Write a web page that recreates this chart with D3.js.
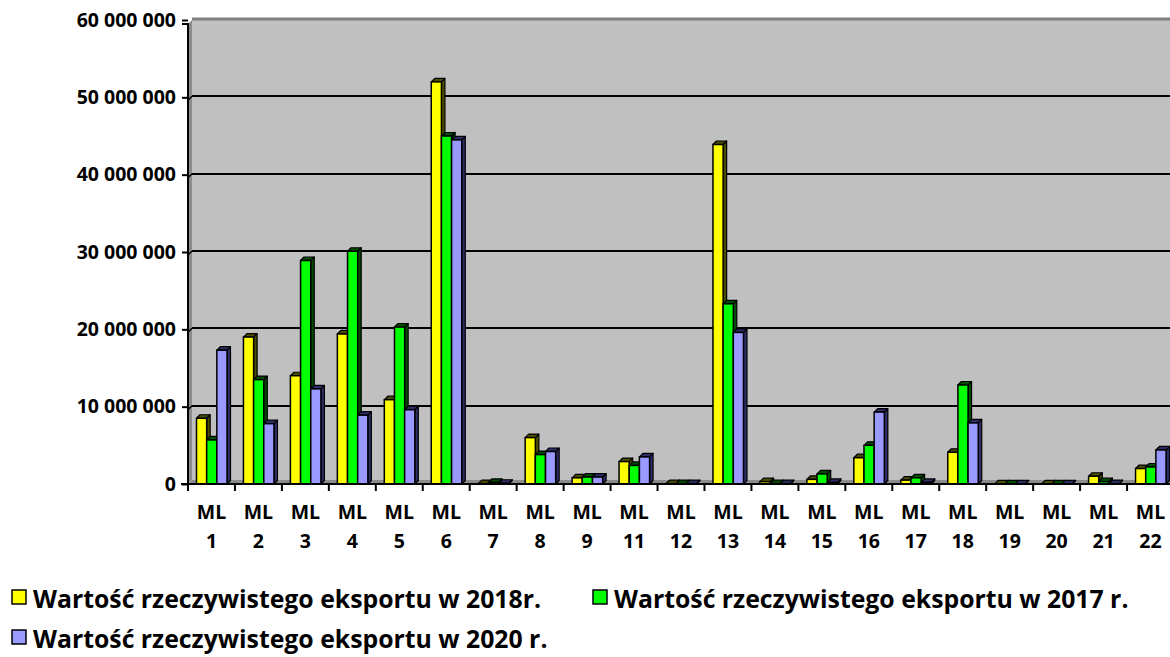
<!DOCTYPE html>
<html><head><meta charset="utf-8">
<script src="https://cdn.jsdelivr.net/npm/d3@7"></script>
<style>
html,body{margin:0;padding:0;background:#fff;}
svg{display:block;font-family:"Open Sans",Lato,sans-serif;font-weight:bold;}
</style></head>
<body>
<svg id="chart" width="1170" height="657"></svg>
<script>
const categories = ["1","2","3","4","5","6","7","8","9","11","12","13","14","15","16","17","18","19","20","21","22"];
const series2018 = [8.5e6,19.0e6,14.0e6,19.4e6,10.9e6,52.0e6,0.05e6,6.0e6,0.8e6,2.9e6,0.05e6,43.9e6,0.3e6,0.6e6,3.4e6,0.5e6,4.1e6,0.02e6,0.02e6,1.0e6,2.0e6];
const series2017 = [5.7e6,13.5e6,28.9e6,30.1e6,20.3e6,45.0e6,0.2e6,3.8e6,0.9e6,2.4e6,0.05e6,23.3e6,0.05e6,1.3e6,5.0e6,0.8e6,12.8e6,0.02e6,0.02e6,0.3e6,2.2e6];
const series2020 = [17.3e6,7.8e6,12.3e6,8.9e6,9.6e6,44.5e6,0.1e6,4.2e6,0.9e6,3.5e6,0.05e6,19.6e6,0.05e6,0.2e6,9.3e6,0.2e6,7.9e6,0.02e6,0.02e6,0.05e6,4.4e6];
const seriesNames = ["Wartość rzeczywistego eksportu w 2018r.","Wartość rzeczywistego eksportu w 2017 r.","Wartość rzeczywistego eksportu w 2020 r."];
const yTicks = [0,10e6,20e6,30e6,40e6,50e6,60e6];

const colors = ["#FFFF00","#00FF00","#9999FF"];
const sideColors = ["#4d4d00","#004d00","#2e2e66"];
const allSeries = [series2018, series2017, series2020];

const svg = d3.select("#chart");
const pL = 188, pR = 1174, pT = 20, pB = 484;
const dx = 4, dy = 4;

const x0 = d3.scaleBand().domain(categories).range([pL, pR]).paddingInner(0).paddingOuter(0);
const x1 = d3.scaleBand().domain([0,1,2]).range([8.5, 39]).padding(0);
const y = d3.scaleLinear().domain([0, 60e6]).range([pB, pT]);

// walls
svg.append("rect").attr("x", pL+dx).attr("y", pT).attr("width", pR-pL).attr("height", pB-pT-dy).attr("fill","#C0C0C0");
svg.append("path").attr("d", `M${pL},${pT+dy}L${pL+dx},${pT}L${pL+dx},${pB-dy}L${pL},${pB}Z`).attr("fill","#8c8c8c");
svg.append("path").attr("d", `M${pL},${pB}L${pL+dx},${pB-dy}L${pR+dx},${pB-dy}L${pR},${pB}Z`).attr("fill","#8c8c8c");

// gridlines
svg.append("g").selectAll("line").data(yTicks.filter(d=>d>0)).join("line")
  .attr("x1", pL+dx).attr("x2", pR+dx)
  .attr("y1", d=>Math.round(y(d))-1).attr("y2", d=>Math.round(y(d))-1)
  .attr("stroke", d=> d===60e6 ? "#808080" : "#000").attr("stroke-width", d=> d===60e6 ? 3 : 2);
svg.append("g").selectAll("line").data(yTicks.filter(d=>d>0 && d<60e6)).join("line")
  .attr("x1", pL).attr("x2", pL+dx)
  .attr("y1", d=>y(d)+dy-1).attr("y2", d=>y(d)-1)
  .attr("stroke","#000").attr("stroke-width",1.5);

// bars
const groups = svg.append("g").selectAll("g").data(categories).join("g")
  .attr("transform", d=>`translate(${x0(d)},0)`);
groups.each(function(cat, ci){
  const g = d3.select(this);
  [0,1,2].forEach(si=>{
    const v = allSeries[si][ci];
    const bx = x1(si), bw = x1.bandwidth();
    const by = y(v), bh = pB - by;
    const d3x = 3.5, d3y = 3.5;
    g.append("path").attr("d", `M${bx+bw},${by}L${bx+bw+d3x},${by-d3y}L${bx+bw+d3x},${pB-d3y}L${bx+bw},${pB}Z`)
      .attr("fill", sideColors[si]).attr("stroke","#000").attr("stroke-width",1.2).attr("stroke-linejoin","round");
    g.append("path").attr("d", `M${bx},${by}L${bx+d3x},${by-d3y}L${bx+bw+d3x},${by-d3y}L${bx+bw},${by}Z`)
      .attr("fill", sideColors[si]).attr("stroke","#000").attr("stroke-width",1.2).attr("stroke-linejoin","round");
    g.append("rect").attr("x", bx).attr("y", by).attr("width", bw).attr("height", bh)
      .attr("fill", colors[si]).attr("stroke","#000").attr("stroke-width",1.5);
  });
});

// y axis
const yAxis = d3.axisLeft(y).tickValues(yTicks).tickSize(6).tickPadding(6)
  .tickFormat(d=> d3.format(",")(d).replace(/,/g," "));
const ya = svg.append("g").attr("transform", `translate(${pL},0)`).call(yAxis);
ya.select(".domain").attr("stroke","#000").attr("stroke-width",2).attr("d", `M-6,${pT+dy}H0V${pB}H-6`);
ya.selectAll(".tick line").attr("stroke","#000").attr("stroke-width",2);
ya.selectAll(".tick text").attr("fill","#000").style("font-size","19.5px").style("font-weight","bold").style("font-family","'Open Sans'");

// x axis
const xAxis = d3.axisBottom(x0).tickSize(0).tickFormat("");
const xa = svg.append("g").attr("transform", `translate(0,${pB})`).call(xAxis);
xa.select(".domain").attr("stroke","#000").attr("stroke-width",2).attr("d", `M${pL-7},0H${pR+dx}`);
svg.append("g").selectAll("line").data(categories).join("line")
  .attr("x1", d=>x0(d)).attr("x2", d=>x0(d)).attr("y1", pB).attr("y2", pB+7)
  .attr("stroke","#000").attr("stroke-width",2);
const lbl = svg.append("g").selectAll("g").data(categories).join("g")
  .attr("transform", d=>`translate(${x0(d)+x0.bandwidth()/2},0)`);
lbl.append("text").attr("y", 519).attr("text-anchor","middle").style("font-size","19.5px").text("ML");
lbl.append("text").attr("y", 548).attr("text-anchor","middle").style("font-size","19.5px").text(d=>d);

// legend
const legendPos = [{x:12,y:590},{x:593,y:590},{x:12,y:630}];
const lg = svg.append("g").selectAll("g").data(seriesNames).join("g")
  .attr("transform",(d,i)=>`translate(${legendPos[i].x},${legendPos[i].y})`);
lg.append("rect").attr("width",14).attr("height",14).attr("fill",(d,i)=>colors[i]).attr("stroke","#000").attr("stroke-width",1.5);
lg.append("text").attr("x",21).attr("y",18).style("font-size","24.8px").text(d=>d);
</script>
</body></html>
